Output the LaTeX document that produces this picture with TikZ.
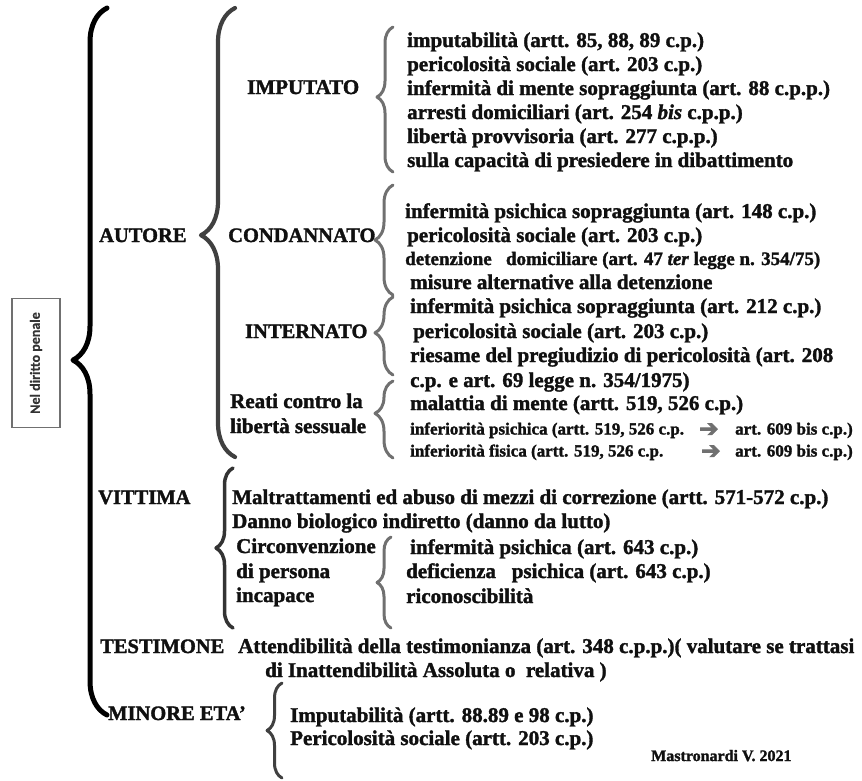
\documentclass[tikz,border=0pt]{standalone}
\usepackage{fontspec}
\setmainfont{Liberation Serif}[BoldFeatures={FakeBold=1.6}, BoldItalicFeatures={FakeBold=1.6}]
\newfontfamily\arrowfont{DejaVu Sans}[FakeBold=4]
\newfontfamily\boxfont{Carlito}[BoldFeatures={FakeBold=0.6}]
\usetikzlibrary{decorations.pathreplacing}
\definecolor{brA}{HTML}{404040}
\definecolor{brB}{HTML}{707070}
\definecolor{brV}{HTML}{333333}
\definecolor{txtc}{HTML}{101010}
\begin{document}
\begin{tikzpicture}[x=1pt,y=-1pt,
  txt/.style={anchor=west, inner sep=0pt, text height=14pt, text depth=4pt, text=txtc, font=\bfseries\fontsize{21}{24}\selectfont},
  lab/.style={txt, font=\bfseries\fontsize{20.5}{24}\selectfont},
  midtxt/.style={txt, font=\bfseries\fontsize{19}{22}\selectfont},
  smltxt/.style={txt, text height=12pt, text depth=3pt, font=\bfseries\fontsize{17}{20}\selectfont},
  sigtxt/.style={txt, text height=11pt, text depth=3pt, font=\bfseries\fontsize{16}{18}\selectfont},
  arr/.style={anchor=west, inner sep=0pt, text=brB, font=\arrowfont\fontsize{23}{24}\selectfont},
  br/.style 2 args={decorate, decoration={brace, amplitude=#1, aspect=#2}, line cap=round, line join=round},
  ]
\useasboundingbox (0,0) rectangle (862,780);

% ---------- box ----------
\node[draw=brB, line width=1.4pt, rotate=90, minimum width=129pt, minimum height=48pt, inner sep=0pt,
      text=brV, font=\boxfont\bfseries\fontsize{14}{16}\selectfont] (ndp) at (36,363) {Nel diritto penale};

% ---------- brace end points ----------
\coordinate (b0b) at (107,715); \coordinate (b0t) at (107,8);
\coordinate (b1b) at (235,457); \coordinate (b1t) at (235,8);
\coordinate (b2b) at (393,172); \coordinate (b2t) at (393,27);
\coordinate (b3b) at (393,295); \coordinate (b3t) at (393,185);
\coordinate (b4b) at (393,375); \coordinate (b4t) at (393,297);
\coordinate (b5b) at (393,458); \coordinate (b5t) at (393,381);
\coordinate (b6b) at (233,628); \coordinate (b6t) at (233,468);
\coordinate (b7b) at (391,628); \coordinate (b7t) at (391,537);
\coordinate (b8b) at (282,778); \coordinate (b8t) at (282,683);

\draw[br={34pt}{0.502}, line width=5pt, black] (b0b) -- (b0t);
\draw[br={34pt}{0.494}, line width=4.2pt, brA] (b1b) -- (b1t);
\draw[br={16pt}{0.517}, line width=3pt, brB] (b2b) -- (b2t);
\draw[br={18pt}{0.5}, line width=3pt, brB] (b3b) -- (b3t);
\draw[br={18pt}{0.54}, line width=3pt, brB] (b4b) -- (b4t);
\draw[br={18pt}{0.58}, line width=3pt, brB] (b5b) -- (b5t);
\draw[br={17pt}{0.5}, line width=3.5pt, brV] (b6b) -- (b6t);
\draw[br={14pt}{0.5}, line width=3pt, brB] (b7b) -- (b7t);
\draw[br={15pt}{0.5}, line width=3pt, brA] (b8b) -- (b8t);

% ---------- labels ----------
\node[lab] (autore) at (99,237) {AUTORE};
\node[txt] (imputato) at (247,89) {IMPUTATO};
\node[lab] (condannato) at (228,237) {CONDANNATO};
\node[lab] (internato) at (245,333) {INTERNATO};
\node[txt] (reati1) at (230,403) {Reati contro la};
\node[txt] (reati2) at (230,428) {libertà sessuale};
\node[lab] (vittima) at (98,499) {VITTIMA};
\node[lab] (testimone) at (100,648) {TESTIMONE};
\node[lab] (minore) at (108,715) {MINORE ETA’};

% ---------- imputato ----------
\node[txt] (i1) at (407,42) {imputabilità (artt. 85, 88, 89 c.p.)};
\node[txt] (i2) at (407,66) {pericolosità sociale (art. 203 c.p.)};
\node[txt] (i3) at (407,90) {infermità di mente sopraggiunta (art. 88 c.p.p.)};
\node[txt] (i4) at (407,114) {arresti domiciliari (art. 254 \textit{bis} c.p.p.)};
\node[txt] (i5) at (407,138) {libertà provvisoria (art. 277 c.p.p.)};
\node[txt] (i6) at (407,162) {sulla capacità di presiedere in dibattimento};

% ---------- condannato ----------
\node[txt] (c1) at (405,213) {infermità psichica sopraggiunta (art. 148 c.p.)};
\node[txt] (c2) at (407,237) {pericolosità sociale (art. 203 c.p.)};
\node[midtxt] (c3) at (405,260) {detenzione\ \ \ domiciliare (art. 47 \textit{ter} legge n. 354/75)};
\node[txt] (c4) at (410,284) {misure alternative alla detenzione};

% ---------- internato ----------
\node[txt] (n1) at (410,308) {infermità psichica sopraggiunta (art. 212 c.p.)};
\node[txt] (n2) at (413,333) {pericolosità sociale (art. 203 c.p.)};
\node[txt] (n3) at (410,357) {riesame del pregiudizio di pericolosità (art. 208};
\node[txt] (n4) at (410,382) {c.p. e art. 69 legge n. 354/1975)};

% ---------- reati ----------
\node[txt] (r1) at (410,405) {malattia di mente (artt. 519, 526 c.p.)};
\node[smltxt] (r2) at (410,430) {inferiorità psichica (artt. 519, 526 c.p.};
\node[arr] (r2a) at (699,430) {➔};
\node[smltxt] (r2b) at (735,430) {art. 609 bis c.p.)};
\node[smltxt] (r3) at (410,452) {inferiorità fisica (artt. 519, 526 c.p.};
\node[arr] (r3a) at (701,452) {➔};
\node[smltxt] (r3b) at (735,452) {art. 609 bis c.p.)};

% ---------- vittima ----------
\node[txt] (v1) at (232,499) {Maltrattamenti ed abuso di mezzi di correzione (artt. 571-572 c.p.)};
\node[txt] (v2) at (232,523) {Danno biologico indiretto (danno da lutto)};
\node[txt] (v3) at (236,548) {Circonvenzione};
\node[txt] (v4) at (236,573) {di persona};
\node[txt] (v5) at (236,597) {incapace};
\node[txt] (p1) at (410,549) {infermità psichica (art. 643 c.p.)};
\node[txt] (p2) at (406,573) {deficienza\ \ \ psichica (art. 643 c.p.)};
\node[txt] (p3) at (406,598) {riconoscibilità};

% ---------- testimone ----------
\node[txt] (t1) at (238,648) {Attendibilità della testimonianza (art. 348 c.p.p.)( valutare se trattasi};
\node[txt] (t2) at (265,672) {di Inattendibilità Assoluta o\ \ relativa )};

% ---------- minore ----------
\node[txt] (m1) at (290,717) {Imputabilità (artt. 88.89 e 98 c.p.)};
\node[txt] (m2) at (290,740) {Pericolosità sociale (artt. 203 c.p.)};
\node[sigtxt] (sig) at (651,757) {Mastronardi V. 2021};
\end{tikzpicture}
\end{document}
